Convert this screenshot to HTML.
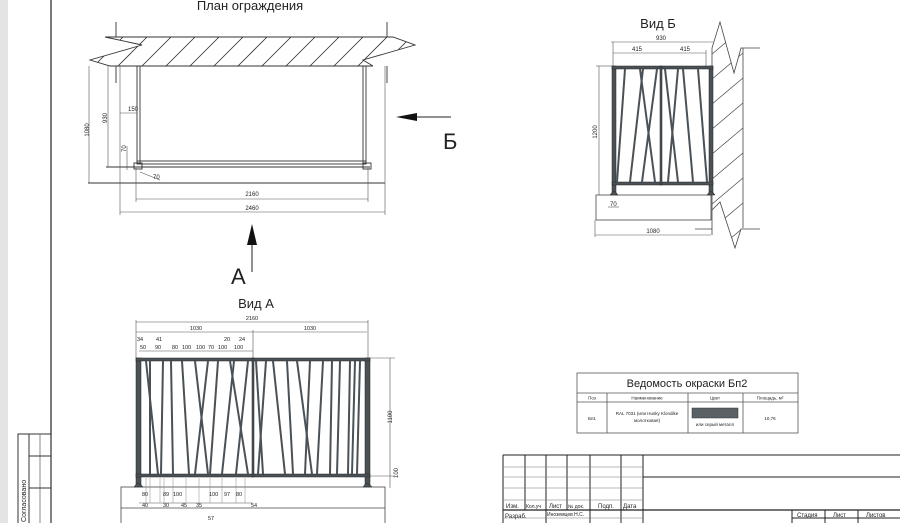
<!DOCTYPE html>
<html><head><meta charset="utf-8"><style>
html,body{margin:0;padding:0;background:#fff}
svg{display:block}
text{font-family:"Liberation Sans",sans-serif;fill:#222}
</style></head><body>
<svg width="900" height="523" viewBox="0 0 900 523" xmlns="http://www.w3.org/2000/svg">
<defs>
<clipPath id="c1"><path d="M105,37 L393,37 L415,45 L363,60 L373,66 L110,66 L90,60 L142,45 Z"/></clipPath>
<clipPath id="c2"><path d="M712,48 L720,22 L734,73 L741,48 L743,48 L743,228 L741,228 L735,248 L720,202 L712,215 Z"/></clipPath>
</defs>
<rect x="0" y="0" width="8" height="523" fill="#e4e4e4"/>
<line x1="51" y1="0" x2="51" y2="523" stroke="#222" stroke-width="1.2"/>
<!-- left stamp -->
<g stroke="#333" fill="none" stroke-width="1">
<rect x="18" y="434" width="33" height="95"/>
<line x1="29" y1="434" x2="29" y2="523"/>
<line x1="40" y1="434" x2="40" y2="523" stroke="#888"/>
<line x1="29" y1="456" x2="51" y2="456"/>
<line x1="29" y1="488" x2="51" y2="488"/>
</g>
<text transform="translate(26,522) rotate(-90)" font-size="7">Согласовано</text>

<!-- PLAN -->
<text x="250" y="10" font-size="13" text-anchor="middle">План ограждения</text>
<g clip-path="url(#c1)" stroke="#333" stroke-width="0.8">
<line x1="80" y1="80" x2="130" y2="30"/><line x1="104" y1="80" x2="154" y2="30"/>
<line x1="128" y1="80" x2="178" y2="30"/><line x1="152" y1="80" x2="202" y2="30"/>
<line x1="176" y1="80" x2="226" y2="30"/><line x1="200" y1="80" x2="250" y2="30"/>
<line x1="224" y1="80" x2="274" y2="30"/><line x1="248" y1="80" x2="298" y2="30"/>
<line x1="272" y1="80" x2="322" y2="30"/><line x1="296" y1="80" x2="346" y2="30"/>
<line x1="320" y1="80" x2="370" y2="30"/><line x1="344" y1="80" x2="394" y2="30"/>
<line x1="368" y1="80" x2="418" y2="30"/><line x1="392" y1="80" x2="442" y2="30"/>
</g>
<g stroke="#333" fill="none" stroke-width="0.9">
<polyline points="105,37 393,37 415,45 363,60 373,66"/>
<polyline points="105,37 142,45 90,60 110,66 373,66"/>
<line x1="116" y1="22" x2="116" y2="37"/><line x1="387" y1="22" x2="387" y2="37"/>
<line x1="116" y1="66" x2="116" y2="83"/><line x1="387" y1="66" x2="387" y2="83"/>
<rect x="137" y="66" width="3" height="97"/>
<rect x="363" y="66" width="3" height="97"/>
<rect x="137" y="161" width="229" height="3"/>
<rect x="134" y="163" width="8" height="6"/><rect x="363" y="163" width="8" height="6"/>
<line x1="106" y1="167" x2="370" y2="167"/>
<line x1="88" y1="183" x2="385" y2="183"/>
<g stroke="#555" stroke-width="0.6">
<line x1="89" y1="66" x2="89" y2="183"/><line x1="108" y1="66" x2="108" y2="167"/>
<line x1="120" y1="113" x2="137" y2="113"/><line x1="120" y1="66" x2="120" y2="215"/>
<line x1="136" y1="168" x2="136" y2="202"/><line x1="368" y1="168" x2="368" y2="202"/>
<line x1="385" y1="66" x2="385" y2="215"/>
<line x1="136" y1="199" x2="368" y2="199"/><line x1="120" y1="212" x2="385" y2="212"/>
<line x1="127" y1="146" x2="127" y2="170"/><line x1="140" y1="172" x2="160" y2="180"/>
</g></g>
<text transform="translate(89,130) rotate(-90)" font-size="6" text-anchor="middle">1080</text>
<text transform="translate(107,118) rotate(-90)" font-size="6" text-anchor="middle">930</text>
<text x="128" y="111" font-size="6">150</text>
<text transform="translate(126,152) rotate(-90)" font-size="6">70</text>
<text x="153" y="179" font-size="6">70</text>
<text x="252" y="196" font-size="6" text-anchor="middle">2160</text>
<text x="252" y="210" font-size="6" text-anchor="middle">2460</text>
<line x1="252" y1="272" x2="252" y2="240" stroke="#222" stroke-width="1"/>
<polygon points="252,224 247,245 257,245" fill="#111"/>
<text x="231" y="284" font-size="22">А</text>
<line x1="451" y1="117" x2="412" y2="117" stroke="#222" stroke-width="1"/>
<polygon points="396,117 417,113 417,121" fill="#111"/>
<text x="443" y="149" font-size="22">Б</text>

<!-- VID B -->
<text x="658" y="28" font-size="13" text-anchor="middle">Вид Б</text>
<g clip-path="url(#c2)" stroke="#444" stroke-width="0.7">
<line x1="705" y1="60" x2="750" y2="22"/><line x1="705" y1="85" x2="750" y2="47"/>
<line x1="705" y1="110" x2="750" y2="72"/><line x1="705" y1="135" x2="750" y2="97"/>
<line x1="705" y1="160" x2="750" y2="122"/><line x1="705" y1="185" x2="750" y2="147"/>
<line x1="705" y1="210" x2="750" y2="172"/><line x1="705" y1="235" x2="750" y2="197"/>
<line x1="705" y1="260" x2="750" y2="222"/>
</g>
<g stroke="#444" fill="none" stroke-width="0.8">
<polyline points="712,66 712,48 720,22 734,73 741,48 760,48"/>
<line x1="743" y1="48" x2="743" y2="228"/>
<line x1="712" y1="66" x2="712" y2="235"/>
<polyline points="712,210 720,202 735,248 741,229 760,229"/>
<line x1="695" y1="229" x2="712" y2="229"/>
<rect x="596" y="195" width="115" height="25"/>
<g stroke="#555" stroke-width="0.6">
<line x1="611" y1="42" x2="713" y2="42"/><line x1="613" y1="53" x2="706" y2="53"/>
<line x1="613" y1="42" x2="613" y2="66"/><line x1="706" y1="50" x2="706" y2="66"/>
<line x1="599" y1="66" x2="599" y2="195"/><line x1="596" y1="66" x2="612" y2="66"/>
<line x1="595" y1="235" x2="711" y2="235"/><line x1="595" y1="220" x2="595" y2="237"/>
<line x1="608" y1="207" x2="619" y2="207"/>
</g></g>
<g fill="#4a5258" stroke="#222" stroke-width="0.5">
<rect x="612" y="66" width="4" height="127"/><rect x="709" y="66" width="4" height="127"/>
<rect x="612" y="66" width="101" height="3"/><rect x="612" y="182" width="101" height="3"/>
<rect x="660" y="66" width="2" height="119"/>
<path d="M610,195 Q614,188 618,195 Z"/><path d="M707,195 Q711,188 715,195 Z"/>
</g>
<g stroke="#4a5258" stroke-width="2">
<line x1="625" y1="69" x2="617" y2="182"/><line x1="640" y1="69" x2="655" y2="182"/>
<line x1="643" y1="69" x2="630" y2="182"/><line x1="657" y1="69" x2="642" y2="182"/>
<line x1="665" y1="69" x2="678" y2="182"/><line x1="678" y1="69" x2="668" y2="182"/>
<line x1="683" y1="69" x2="693" y2="182"/><line x1="698" y1="69" x2="707" y2="182"/>
</g>
<text x="661" y="40" font-size="6" text-anchor="middle">930</text>
<text x="637" y="51" font-size="6" text-anchor="middle">415</text>
<text x="685" y="51" font-size="6" text-anchor="middle">415</text>
<text transform="translate(597,132) rotate(-90)" font-size="6" text-anchor="middle">1200</text>
<text x="610" y="206" font-size="6">70</text>
<text x="653" y="233" font-size="6" text-anchor="middle">1080</text>

<!-- VID A -->
<text x="256" y="308" font-size="13" text-anchor="middle">Вид А</text>
<g stroke="#555" fill="none" stroke-width="0.6">
<line x1="136" y1="322" x2="368" y2="322"/><line x1="136" y1="332" x2="367" y2="332"/>
<line x1="136" y1="320" x2="136" y2="358"/><line x1="368" y1="320" x2="368" y2="358"/>
<line x1="253" y1="330" x2="253" y2="358"/>
<line x1="139" y1="351" x2="253" y2="351"/>
<line x1="370" y1="358" x2="395" y2="358"/><line x1="390" y1="358" x2="390" y2="488"/>
<line x1="370" y1="476" x2="395" y2="476"/>
<rect x="121" y="487" width="264" height="40" stroke="#444" stroke-width="0.8"/>
<line x1="121" y1="508" x2="385" y2="508" stroke="#444" stroke-width="0.8"/>
<line x1="139" y1="503" x2="253" y2="503"/>
<g stroke="#888" stroke-width="0.5">
<line x1="146" y1="478" x2="146" y2="503"/><line x1="150" y1="478" x2="150" y2="503"/>
<line x1="160" y1="478" x2="160" y2="503"/><line x1="164" y1="478" x2="164" y2="503"/>
<line x1="173" y1="478" x2="173" y2="503"/><line x1="186" y1="478" x2="186" y2="503"/>
<line x1="199" y1="478" x2="199" y2="503"/><line x1="210" y1="478" x2="210" y2="503"/>
<line x1="222" y1="478" x2="222" y2="503"/><line x1="236" y1="478" x2="236" y2="503"/>
<line x1="245" y1="478" x2="245" y2="503"/>
</g></g>
<g fill="#4a5258" stroke="#222" stroke-width="0.5">
<rect x="136" y="358" width="5" height="128"/><rect x="365" y="358" width="5" height="128"/>
<rect x="136" y="358" width="234" height="3"/><rect x="136" y="474" width="234" height="3"/>
<rect x="252" y="358" width="2" height="119"/>
<path d="M134,487 Q138,480 143,487 Z"/><path d="M363,487 Q367,480 372,487 Z"/>
</g>
<g stroke="#4a5258" stroke-width="2">
<line x1="146" y1="361" x2="158" y2="474"/><line x1="150" y1="361" x2="150" y2="474"/>
<line x1="163" y1="361" x2="161" y2="474"/><line x1="171" y1="361" x2="173" y2="474"/>
<line x1="182" y1="361" x2="189" y2="474"/><line x1="195" y1="361" x2="208" y2="474"/>
<line x1="208" y1="361" x2="195" y2="474"/><line x1="218" y1="361" x2="210" y2="474"/>
<line x1="230" y1="361" x2="248" y2="474"/><line x1="234" y1="361" x2="222" y2="474"/>
<line x1="248" y1="361" x2="236" y2="474"/>
<line x1="256" y1="361" x2="263" y2="474"/><line x1="266" y1="361" x2="258" y2="474"/>
<line x1="273" y1="361" x2="285" y2="474"/><line x1="287" y1="361" x2="293" y2="474"/>
<line x1="297" y1="361" x2="312" y2="474"/><line x1="310" y1="361" x2="305" y2="474"/>
<line x1="323" y1="361" x2="317" y2="474"/><line x1="332" y1="361" x2="330" y2="474"/>
<line x1="340" y1="361" x2="337" y2="474"/><line x1="350" y1="361" x2="348" y2="474"/>
<line x1="360" y1="361" x2="357" y2="474"/><line x1="355" y1="361" x2="352" y2="474"/>
</g>
<g font-size="5.5">
<text x="252" y="320" text-anchor="middle">2160</text>
<text x="196" y="330" text-anchor="middle">1030</text>
<text x="310" y="330" text-anchor="middle">1030</text>
<text x="137" y="341">34</text><text x="156" y="341">41</text><text x="224" y="341">20</text><text x="239" y="341">24</text>
<text x="140" y="349">50</text><text x="155" y="349">90</text><text x="172" y="349">80</text><text x="182" y="349">100</text>
<text x="196" y="349">100</text><text x="208" y="349">70</text><text x="218" y="349">100</text><text x="234" y="349">100</text>
<text x="142" y="496">80</text><text x="163" y="496">89</text><text x="173" y="496">100</text><text x="209" y="496">100</text>
<text x="224" y="496">97</text><text x="236" y="496">80</text>
<text x="142" y="507">40</text><text x="163" y="507">30</text><text x="181" y="507">45</text><text x="196" y="507">35</text>
<text x="251" y="507">54</text><text x="208" y="520">57</text>
</g>
<text transform="translate(392,417) rotate(-90)" font-size="6" text-anchor="middle">1100</text>
<text transform="translate(398,478) rotate(-90)" font-size="6">100</text>

<!-- Paint table -->
<g stroke="#555" fill="none" stroke-width="0.8">
<rect x="577" y="373" width="221" height="60"/>
<line x1="577" y1="393" x2="798" y2="393"/><line x1="577" y1="402" x2="798" y2="402"/>
<line x1="607" y1="393" x2="607" y2="433"/><line x1="688" y1="393" x2="688" y2="433"/>
<line x1="743" y1="393" x2="743" y2="433"/>
</g>
<rect x="692" y="408" width="46" height="10" fill="#5a6166" stroke="#333" stroke-width="0.5"/>
<text x="687" y="387" font-size="11" text-anchor="middle">Ведомость окраски Бп2</text>
<g font-size="4.5" text-anchor="middle">
<text x="592" y="399.5">Поз</text><text x="647" y="399.5">Наименование</text><text x="715" y="399.5">Цвет</text><text x="770" y="399.5">Площадь, м²</text>
<text x="592" y="420">Бп1</text><text x="647" y="415">RAL 7031 (или Husky Klondike</text><text x="647" y="422">молотковая)</text>
<text x="715" y="426">или серый металл</text><text x="770" y="420">10,76</text>
</g>

<!-- Title block -->
<g stroke="#222" fill="none" stroke-width="1">
<line x1="503" y1="455" x2="900" y2="455"/>
<line x1="503" y1="455" x2="503" y2="523"/>
<line x1="643" y1="455" x2="643" y2="523"/>
<line x1="525" y1="455" x2="525" y2="510"/><line x1="546" y1="455" x2="546" y2="523"/>
<line x1="567" y1="455" x2="567" y2="510"/><line x1="590" y1="455" x2="590" y2="523"/>
<line x1="621" y1="455" x2="621" y2="523"/>
<line x1="503" y1="510" x2="900" y2="510" stroke-width="1.2"/>
<line x1="643" y1="477" x2="900" y2="477"/>
<line x1="792" y1="510" x2="792" y2="523"/><line x1="825" y1="510" x2="825" y2="523"/>
<line x1="858" y1="510" x2="858" y2="523"/><line x1="792" y1="518" x2="900" y2="518"/>
<g stroke="#777" stroke-width="0.6">
<line x1="503" y1="467" x2="643" y2="467"/><line x1="503" y1="477" x2="643" y2="477"/>
<line x1="503" y1="488" x2="643" y2="488"/><line x1="503" y1="500" x2="643" y2="500"/>
<line x1="503" y1="518" x2="643" y2="518"/>
</g></g>
<g font-size="6">
<text x="506" y="508">Изм.</text><text x="526" y="508" font-size="5">Кол.уч</text><text x="549" y="508">Лист</text>
<text x="568" y="508" font-size="5">№ док.</text><text x="598" y="508">Подп.</text><text x="623" y="508">Дата</text>
<text x="505" y="518">Разраб.</text><text x="547" y="516" font-size="5">Иноземцев Н.С.</text>
<text x="797" y="517">Стадия</text><text x="833" y="517">Лист</text><text x="866" y="517">Листов</text>
</g>
</svg>
</body></html>
